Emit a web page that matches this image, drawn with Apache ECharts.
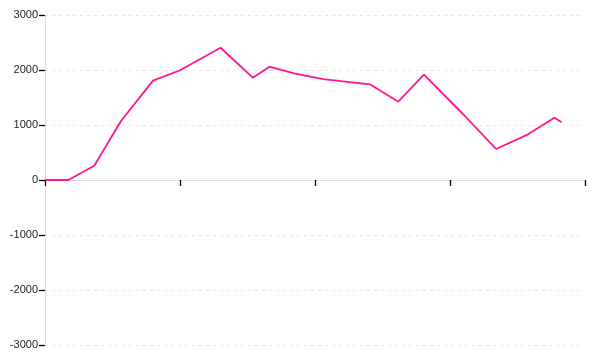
<!DOCTYPE html>
<html>
<head>
<meta charset="utf-8">
<script src="https://cdn.jsdelivr.net/npm/echarts@6/dist/echarts.min.js"></script>
<style>html,body{margin:0;padding:0;background:#fff}#c{width:600px;height:360px}</style>
</head>
<body>
<div id="c"></div>
<script>
var xValues = [0, 17.3, 36.5, 56.3, 80, 100, 130.1, 153.9, 166.3, 185.2, 206, 220.7, 240.7, 261.7, 280.7, 309.6, 334.1, 357.8, 377.3, 382.7];
var yValues = [0, 0, 260, 1073, 1806, 1995, 2405, 1860, 2060, 1933, 1836, 1794, 1740, 1424, 1915, 1200, 564, 830, 1133, 1049];
var yTicks = [-3000, -2000, -1000, 0, 1000, 2000, 3000];

var chart = echarts.init(document.getElementById('c'), null, {renderer: 'canvas'});
var data = xValues.map(function (x, i) { return [x, yValues[i]]; });
chart.setOption({
  animation: false,
  grid: {left: 45, right: 15, top: 15, bottom: 15},
  xAxis: {
    type: 'value', min: 0, max: 400, interval: 100,
    axisLine: {onZero: true, lineStyle: {color: '#dddddd', width: 1}},
    axisTick: {show: true, length: 6, lineStyle: {color: '#000', width: 1.3}},
    axisLabel: {show: false},
    splitLine: {show: false}
  },
  yAxis: {
    type: 'value', min: yTicks[0], max: yTicks[yTicks.length - 1], interval: 1000,
    axisLine: {show: true, lineStyle: {color: '#dddddd', width: 1}},
    axisTick: {show: true, length: 6, lineStyle: {color: '#000', width: 1.3}},
    axisLabel: {color: '#222', fontSize: 11, fontFamily: 'Liberation Sans', margin: 7,
      formatter: function (v) { return String(v); }},
    splitLine: {show: true, lineStyle: {color: '#e6e6e6', type: [3, 4], width: 1}}
  },
  series: [{
    type: 'line', data: data, showSymbol: false,
    lineStyle: {color: '#ff1493', width: 1.8},
    itemStyle: {color: '#ff1493'}
  }]
});
</script>
</body>
</html>
